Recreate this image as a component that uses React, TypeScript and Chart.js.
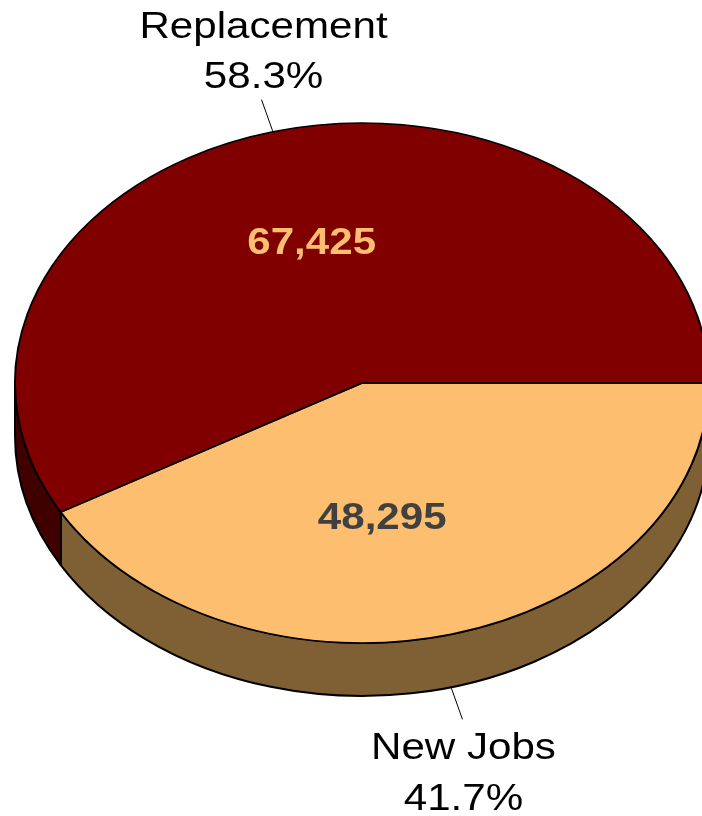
import React, { useEffect, useRef } from "react";
import { Chart, registerables } from "chart.js";

Chart.register(...registerables);

// ---- data ----
const CATEGORIES = ["New Jobs", "Replacement"];
const VALUES = [48295, 67425];
const PERCENT_LABELS = ["41.7%", "58.3%"];
const VALUE_LABELS = ["48,295", "67,425"];
const TOP_COLORS = ["#FDBF6F", "#800000"];
const SIDE_COLORS = ["#7F6034", "#400000"];
const VALUE_TEXT_COLORS = ["#404040", "#FDBF6F"];

// ---- layout ----
const W = 702;
const H = 816;
const G = { cx: 362, cy: 383, rx: 347, ry: 260, depth: 53 };
const TEXT_STRETCH = 1.17;
const FONT_FAMILY = '"Liberation Sans", Arial, sans-serif';
const VALUE_LABEL_POS = [
  { f: 0.53, dx: -27, dy: 0 },
  { f: 0.565, dx: 0, dy: 0 },
];

function drawText(ctx: CanvasRenderingContext2D, text: string, x: number, y: number, font: string, color: string) {
  ctx.save();
  ctx.translate(x, y);
  ctx.scale(TEXT_STRETCH, 1);
  ctx.font = font;
  ctx.fillStyle = color;
  ctx.textAlign = "center";
  ctx.textBaseline = "alphabetic";
  ctx.fillText(text, 0, 0);
  ctx.restore();
}

const pie3d = {
  id: "pie3d",
  beforeDatasetsDraw(chart: any) {
    const ctx: CanvasRenderingContext2D = chart.ctx;
    const meta = chart.getDatasetMeta(0);
    // side walls (front half only)
    ctx.save();
    ctx.lineWidth = 2;
    ctx.strokeStyle = "#000";
    ctx.lineJoin = "round";
    meta.data.forEach((el: any, i: number) => {
      const s = el.startAngle;
      const e = el.endAngle;
      const ranges = [
        [0, Math.PI],
        [2 * Math.PI, 3 * Math.PI],
      ];
      for (const [lo, hi] of ranges) {
        const a = Math.max(s, lo);
        const b = Math.min(e, hi);
        if (b <= a) continue;
        ctx.beginPath();
        ctx.ellipse(G.cx, G.cy, G.rx, G.ry, 0, a, b, false);
        ctx.lineTo(G.cx + G.rx * Math.cos(b), G.cy + G.ry * Math.sin(b) + G.depth);
        ctx.ellipse(G.cx, G.cy + G.depth, G.rx, G.ry, 0, b, a, true);
        ctx.closePath();
        ctx.fillStyle = SIDE_COLORS[i];
        ctx.fill();
        ctx.stroke();
      }
    });
    ctx.restore();
    // squash the library's circular pie into the top ellipse
    const el0 = meta.data[0];
    const r0 = el0.outerRadius;
    ctx.save();
    ctx.translate(G.cx, G.cy);
    ctx.scale(G.rx / r0, G.ry / r0);
    ctx.translate(-el0.x, -el0.y);
  },
  afterDatasetsDraw(chart: any) {
    const ctx: CanvasRenderingContext2D = chart.ctx;
    ctx.restore();
    const meta = chart.getDatasetMeta(0);
    meta.data.forEach((el: any, i: number) => {
      const mid = (el.startAngle + el.endAngle) / 2;
      const c = Math.cos(mid);
      const sn = Math.sin(mid);
      // value label inside slice
      const p = VALUE_LABEL_POS[i];
      const vx = G.cx + G.rx * c * p.f + p.dx;
      const vy = G.cy + G.ry * sn * p.f + p.dy;
      drawText(ctx, VALUE_LABELS[i], vx, vy + 13, `bold 36px ${FONT_FAMILY}`, VALUE_TEXT_COLORS[i]);
      // leader line + outer label
      const front = sn > 0;
      const ex = G.cx + G.rx * c;
      const ey = G.cy + G.ry * sn + (front ? G.depth : 0);
      let dx = G.rx * c;
      let dy = G.ry * sn;
      const len = Math.hypot(dx, dy);
      dx /= len;
      dy /= len;
      const x1 = ex + dx * 1;
      const y1 = ey + dy * 1;
      const x2 = ex + dx * 34;
      const y2 = ey + dy * 34;
      ctx.save();
      ctx.strokeStyle = "#000";
      ctx.lineWidth = 1;
      ctx.beginPath();
      ctx.moveTo(x1, y1);
      ctx.lineTo(x2, y2);
      ctx.stroke();
      ctx.restore();
      const font = `36px ${FONT_FAMILY}`;
      if (front) {
        drawText(ctx, CATEGORIES[i], x2 + 1, y2 + 40, font, "#000");
        drawText(ctx, PERCENT_LABELS[i], x2 + 1, y2 + 91, font, "#000");
      } else {
        drawText(ctx, CATEGORIES[i], x2 + 2, y2 - 62, font, "#000");
        drawText(ctx, PERCENT_LABELS[i], x2 + 2, y2 - 12, font, "#000");
      }
    });
  },
};

export default function App() {
  const ref = useRef<HTMLCanvasElement>(null);
  useEffect(() => {
    if (!ref.current) return;
    const chart = new Chart(ref.current, {
      type: "pie",
      data: {
        labels: CATEGORIES,
        datasets: [
          {
            data: VALUES,
            backgroundColor: TOP_COLORS,
            borderColor: "#000",
            borderWidth: 2,
            clip: false,
          } as any,
        ],
      },
      options: {
        responsive: false,
        animation: false,
        rotation: 90,
        events: [],
        layout: { padding: 0 },
        plugins: {
          legend: { display: false },
          tooltip: { enabled: false },
        },
      },
      plugins: [pie3d as any],
    });
    return () => chart.destroy();
  }, []);
  return (
    <div style={{ position: "fixed", left: 0, top: 0, width: W, height: H, background: "#fff", overflow: "hidden" }}>
      <canvas ref={ref} width={W} height={H} style={{ width: W, height: H, display: "block" }} />
    </div>
  );
}
